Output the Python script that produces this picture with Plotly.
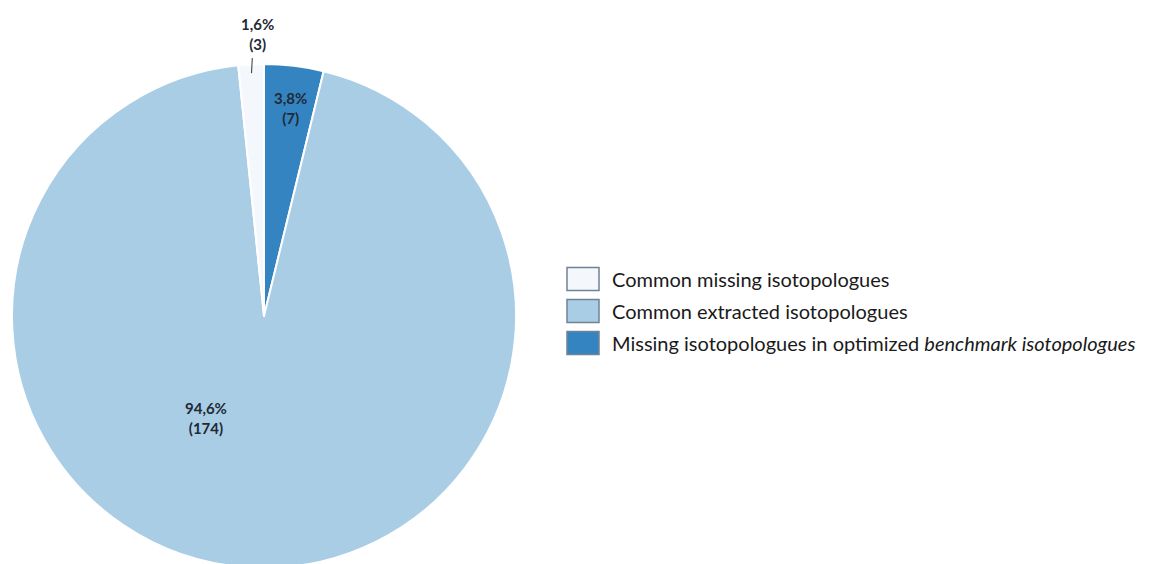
import math
import plotly.graph_objects as go

# ---- data ----
labels = ["Missing isotopologues in optimized <i>benchmark isotopologues</i>",
          "Common extracted isotopologues",
          "Common missing isotopologues"]
counts = [7, 174, 3]
pct_text = ["3,8%", "94,6%", "1,6%"]
colors = ["#3584c2", "#a9cde4", "#f4f8fc"]
legend_order = [2, 1, 0]

W, H = 1159, 564
OFF = 8  # page body margin compensation
cx, cy, R = 264, 316, 252

def px(x):
    return (x - OFF) / W

def py(y):
    return 1 - (y - OFF) / H

fig = go.Figure(go.Pie(
    labels=labels, values=counts, sort=False, direction="clockwise", rotation=0,
    marker=dict(colors=colors, line=dict(color="white", width=2)),
    textinfo="none", hoverinfo="label+value+percent", showlegend=False,
    domain=dict(x=[px(cx - R), px(cx + R)], y=[py(cy + R), py(cy - R)]),
))

# slice labels placed from slice angles
total = sum(counts)
label_r = [0.83, 0.466, 1.12]
label_shift = [0.3, 25.6, 1.7]  # degrees
start = 0.0
annotations = []
shapes = []
for i, v in enumerate(counts):
    mid = start + v / total * 360 / 2
    start += v / total * 360
    a = math.radians(mid + label_shift[i])
    x = cx + R * label_r[i] * math.sin(a)
    y = cy - R * label_r[i] * math.cos(a)
    annotations.append(dict(
        x=px(x), y=py(y), xref="paper", yref="paper", showarrow=False,
        xanchor="center", yanchor="middle",
        text=f"<b>{pct_text[i]}<br>({v})</b>", align="center",
        font=dict(family="Lato", size=15, color="#1f2a36"),
    ))
    if label_r[i] > 1:
        am = math.radians(mid)
        r0, r1 = 0.965, 1.025
        shapes.append(dict(
            type="line", xref="paper", yref="paper",
            x0=px(cx + R * r0 * math.sin(am)), y0=py(cy - R * r0 * math.cos(am)),
            x1=px(cx + R * r1 * math.sin(am) + 1.5), y1=py(cy - R * r1 * math.cos(am)),
            line=dict(color="#333333", width=1),
        ))

# legend
lx0, lx1, ly0, row_h, sq_h = 567, 599, 279, 32, 23
for k, idx in enumerate(legend_order):
    yc = ly0 + k * row_h
    shapes.append(dict(
        type="rect", xref="paper", yref="paper",
        x0=px(lx0), x1=px(lx1), y0=py(yc - sq_h / 2), y1=py(yc + sq_h / 2),
        fillcolor=colors[idx], line=dict(color="#6e8296", width=1.5),
    ))
    annotations.append(dict(
        x=px(610), y=py(yc), xref="paper", yref="paper", showarrow=False,
        xanchor="left", yanchor="middle", text=labels[idx],
        font=dict(family="Lato", size=20, color="#1a1a1a"),
    ))

fig.update_layout(
    width=W, height=H, margin=dict(l=0, r=0, t=0, b=0),
    paper_bgcolor="white", plot_bgcolor="white",
    annotations=annotations, shapes=shapes, showlegend=False,
)
fig.write_html("out.html")
